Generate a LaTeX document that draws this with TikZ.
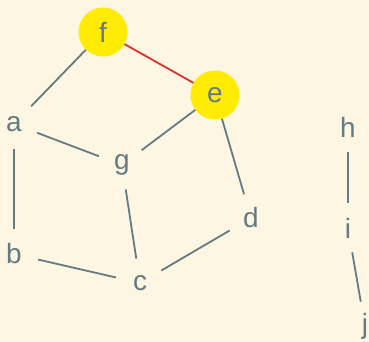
\documentclass[tikz,border=0pt]{standalone}
\usepackage{fontspec}
\setmainfont{Liberation Sans}
\definecolor{bg}{HTML}{FDF6E3}
\definecolor{txt}{HTML}{657B83}
\definecolor{hl}{RGB}{255,236,0}
\definecolor{redl}{HTML}{DC322F}
\begin{document}
\begin{tikzpicture}[x=1bp,y=-1bp,
  vert/.style={circle,minimum size=49bp,inner sep=0pt,text=txt,font=\fontsize{28}{31}\selectfont},
  hot/.style={vert,fill=hl},
  edge/.style={draw=txt,line width=1.8bp},
  redge/.style={draw=redl,line width=1.8bp}]
\fill[bg] (0,0) rectangle (369,342);
\useasboundingbox (0,0) rectangle (369,342);
\node[hot] (f) at (103,32) {f};
\node[hot] (e) at (215,95) {e};
\node[vert] (a) at (14,124) {a};
\node[vert] (g) at (122,165) {g};
\node[vert] (d) at (251,218) {d};
\node[vert] (b) at (14,254) {b};
\node[vert] (c) at (140,283) {c};
\node[vert] (h) at (348,127) {h};
\node[vert] (i) at (348,228) {i};
\node[vert] (j) at (365,326) {j};
\draw[edge] (a) -- (f);
\draw[redge] (f) -- (e);
\draw[edge] (e) -- (g);
\draw[edge] (e) -- (d);
\draw[edge] (a) -- (g);
\draw[edge] (a) -- (b);
\draw[edge] (g) -- (c);
\draw[edge] (b) -- (c);
\draw[edge] (c) -- (d);
\draw[edge] (h) -- (i);
\draw[edge] (i) -- (j);
\end{tikzpicture}
\end{document}
